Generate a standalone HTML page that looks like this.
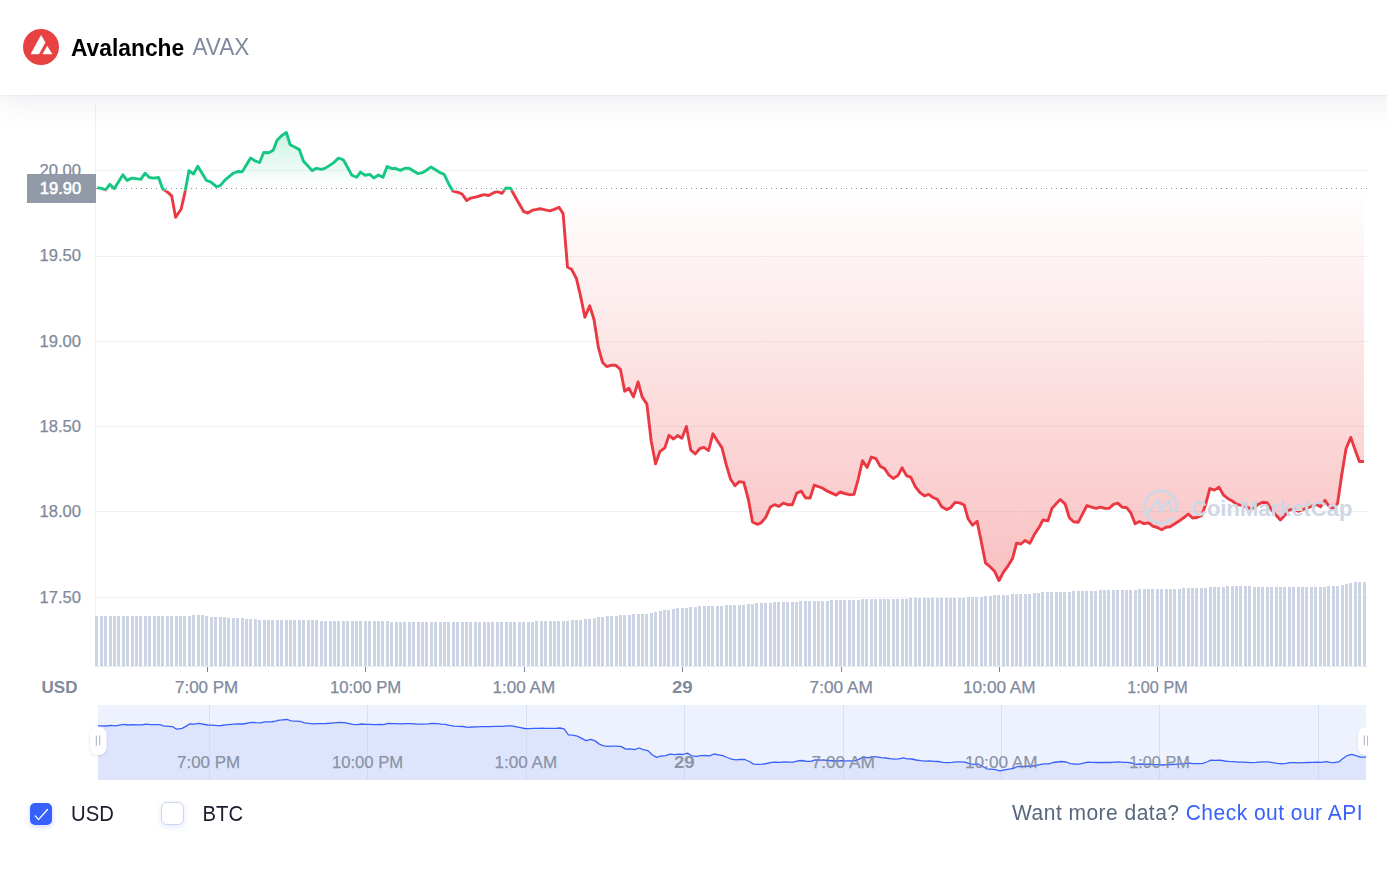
<!DOCTYPE html>
<html><head><meta charset="utf-8"><title>Avalanche AVAX</title>
<style>
html,body{margin:0;padding:0;background:#fff;}
body{width:1387px;height:873px;position:relative;overflow:hidden;font-family:"Liberation Sans",sans-serif;}
.hdr{position:absolute;left:0;top:0;width:1467px;height:95px;background:#fff;box-shadow:0 7px 28px rgba(128,138,157,0.14),0 1px 2px rgba(128,138,157,0.10);z-index:2;}
.logo{position:absolute;left:23px;top:29px;width:36px;height:36px;}
.name{position:absolute;left:71px;top:33.5px;font-size:22.8px;line-height:28px;font-weight:700;color:#000;white-space:nowrap;transform:scaleY(1.055);transform-origin:0 21.8px;}
.sym{position:absolute;left:192.4px;top:33.5px;font-size:22.6px;line-height:28px;font-weight:400;color:#808a9d;white-space:nowrap;transform:scaleY(1.045);transform-origin:0 21.8px;}
.chart{position:absolute;left:0;top:0;z-index:1;}
.chart text{font-family:"Liberation Sans",sans-serif;}
.ax{font-size:16.6px;fill:#808a9d;stroke:#808a9d;stroke-width:0.25px;}
.axb{font-size:16.6px;fill:#808a9d;font-weight:700;}
.usd{font-size:17px;fill:#808a9d;font-weight:700;}
.pl{font-size:16.5px;fill:#fff;font-weight:400;stroke:#fff;stroke-width:0.55px;}
.nv{font-size:16.6px;fill:#808a9d;fill-opacity:0.9;stroke:#808a9d;stroke-width:0.25px;stroke-opacity:0.9;}
.nvb{font-size:16.6px;fill:#808a9d;font-weight:700;fill-opacity:0.9;}
.wm{font-size:22px;font-weight:700;fill:#cfd6e4;}
.cb{position:absolute;top:803px;width:22px;height:22px;border-radius:5px;box-sizing:border-box;}
.cb.on{left:30px;background:#3861fb;box-shadow:0 2px 5px rgba(56,97,251,0.25);}
.cb.off{left:160.5px;top:802px;width:23px;height:23px;border-radius:6px;background:#fff;border:1px solid #ccd6f0;box-shadow:0 2px 6px rgba(56,97,251,0.14);}
.lbl{position:absolute;top:801px;font-size:20.3px;line-height:26px;color:#1a1d2e;white-space:nowrap;transform:scaleY(1.07);transform-origin:0 19.7px;}
.more{position:absolute;right:24px;top:799.5px;font-size:21px;line-height:26px;letter-spacing:0.47px;color:#58667e;white-space:nowrap;transform:scaleY(1.06);transform-origin:100% 20.1px;}
.more a{color:#3861fb;text-decoration:none;}
</style></head><body>
<div class="hdr">
<svg class="logo" viewBox="0 0 36 36"><circle cx="18" cy="18" r="18" fill="#e84142"/><path d="M18.1,6.5 L22.1,13.4 L15.9,24.9 L8,24.9 Z M24.2,17.3 L28.9,24.9 L19.9,24.9 Z" fill="#fff" stroke="#fff" stroke-width="0.6" stroke-linejoin="round"/></svg>
<div class="name">Avalanche</div><div class="sym">AVAX</div>
</div>
<svg class="chart" width="1387" height="873" viewBox="0 0 1387 873">
<defs>
<linearGradient id="gG" x1="0" y1="128" x2="0" y2="188.4" gradientUnits="userSpaceOnUse"><stop offset="0" stop-color="#16c784" stop-opacity="0.24"/><stop offset="1" stop-color="#16c784" stop-opacity="0.0"/></linearGradient>
<linearGradient id="gR" x1="0" y1="188.4" x2="0" y2="590" gradientUnits="userSpaceOnUse"><stop offset="0" stop-color="#ec3b3e" stop-opacity="0.0"/><stop offset="1" stop-color="#ec3b3e" stop-opacity="0.33"/></linearGradient>
<clipPath id="cUp"><rect x="0" y="0" width="1387" height="188.4"/></clipPath>
<clipPath id="cDn"><rect x="0" y="188.4" width="1387" height="500"/></clipPath>
<clipPath id="lUp"><rect x="0" y="0" width="1387" height="190.4"/></clipPath>
<clipPath id="lDn"><rect x="0" y="190.4" width="1387" height="500"/></clipPath>
</defs>
<rect x="95" y="105" width="1" height="561" fill="#eff2f5"/>
<rect x="95" y="170" width="1273" height="1" fill="#eff2f5"/>
<rect x="95" y="256" width="1273" height="1" fill="#eff2f5"/>
<rect x="95" y="341" width="1273" height="1" fill="#eff2f5"/>
<rect x="95" y="426" width="1273" height="1" fill="#eff2f5"/>
<rect x="95" y="511" width="1273" height="1" fill="#eff2f5"/>
<rect x="95" y="597" width="1273" height="1" fill="#eff2f5"/>
<rect x="95" y="666" width="1273" height="1" fill="#e9edf3"/>
<text x="81" y="175.9" text-anchor="end" class="ax">20.00</text>
<text x="81" y="261.4" text-anchor="end" class="ax">19.50</text>
<text x="81" y="346.9" text-anchor="end" class="ax">19.00</text>
<text x="81" y="431.9" text-anchor="end" class="ax">18.50</text>
<text x="81" y="516.9" text-anchor="end" class="ax">18.00</text>
<text x="81" y="602.9" text-anchor="end" class="ax">17.50</text>
<path d="M97.2,187.6 L101.5,188.4 L105.6,189.8 L109.8,184.4 L114.2,188.8 L122.9,174.8 L127.1,180.4 L131.8,178.1 L136.1,178.6 L140.8,179.4 L145.1,173.2 L149.4,177.5 L154.0,178.1 L158.6,177.5 L162.7,189.0 L167.3,191.9 L171.7,195.9 L175.6,217.3 L181.1,209.2 L184.8,193.1 L189.0,170.6 L193.5,174.0 L197.8,166.2 L206.5,180.4 L211.1,182.1 L216.3,186.7 L220.3,185.6 L224.9,180.1 L233.0,173.4 L237.6,171.5 L242.2,171.7 L250.6,157.9 L255.0,160.9 L259.6,162.5 L263.6,152.5 L268.8,152.8 L273.2,150.2 L276.9,140.6 L281.5,135.8 L286.4,132.5 L290.2,144.8 L295.1,147.3 L299.4,149.6 L303.4,161.1 L312.1,170.6 L316.4,168.3 L321.3,169.4 L325.4,168.1 L333.4,162.9 L338.6,158.0 L343.5,160.0 L351.9,175.2 L356.5,177.3 L360.5,172.1 L365.1,175.2 L369.8,174.4 L373.8,177.9 L378.4,175.0 L383.0,177.3 L387.1,166.6 L392.2,168.6 L395.2,168.3 L400.4,170.4 L405.0,168.3 L409.0,168.3 L417.7,173.6 L422.3,172.7 L426.9,170.0 L430.9,166.9 L435.6,169.8 L440.2,172.7 L444.2,174.4 L448.8,184.2 L452.9,191.1 L458.1,192.3 L462.1,194.0 L466.7,200.6 L470.7,198.1 L475.4,197.1 L479.4,196.0 L484.0,194.6 L488.6,195.5 L493.2,192.9 L497.3,191.7 L501.9,193.4 L505.9,188.0 L510.5,188.2 L514.6,195.7 L519.2,203.8 L523.8,211.7 L527.8,213.0 L532.5,210.2 L537.1,209.3 L541.1,208.8 L545.2,209.8 L549.8,210.8 L554.4,209.4 L559.0,207.3 L563.1,213.6 L567.5,267.1 L571.7,269.6 L576.3,278.2 L580.3,294.9 L584.9,317.2 L589.7,305.8 L594.0,319.5 L598.4,347.6 L602.6,362.5 L606.7,366.5 L611.2,365.3 L615.8,365.3 L620.4,369.4 L624.7,391.2 L628.9,388.3 L633.5,396.9 L638.1,382.0 L642.1,396.9 L646.9,404.1 L651.2,441.0 L655.6,463.9 L659.8,451.6 L664.8,447.9 L669.0,435.3 L673.6,439.0 L677.6,435.5 L681.9,438.2 L686.4,426.4 L690.8,450.2 L695.3,453.9 L699.9,448.5 L704.0,447.4 L708.6,450.5 L712.9,433.8 L717.3,440.7 L721.9,447.6 L726.3,464.9 L730.6,479.3 L735.0,485.7 L739.2,481.6 L743.8,482.4 L748.4,499.5 L752.5,522.0 L757.1,524.3 L761.1,522.8 L765.7,517.4 L770.4,507.0 L774.4,504.7 L779.0,506.4 L783.3,503.2 L787.7,504.7 L792.3,504.7 L796.7,493.2 L801.3,491.2 L805.5,497.8 L810.1,498.1 L814.2,485.1 L822.3,488.0 L826.9,490.9 L836.1,495.1 L840.1,492.0 L844.8,493.5 L849.4,494.7 L854.0,494.4 L858.1,479.6 L862.5,460.6 L867.1,467.5 L871.3,457.1 L876.0,458.6 L880.2,466.3 L884.6,468.6 L889.0,475.2 L893.2,478.4 L897.9,475.6 L902.1,467.8 L906.5,475.6 L910.9,477.3 L915.2,486.5 L919.8,492.3 L924.4,495.8 L928.7,494.4 L933.0,497.5 L937.4,499.4 L941.7,506.7 L946.7,509.6 L950.9,507.5 L955.0,502.4 L959.6,502.9 L964.2,505.0 L968.1,518.8 L972.5,525.2 L977.1,521.4 L981.3,541.9 L985.6,563.2 L990.0,566.7 L994.6,571.3 L999.0,580.5 L1003.6,571.9 L1007.9,566.1 L1012.5,558.6 L1016.5,543.3 L1020.9,544.0 L1025.2,540.4 L1029.8,543.3 L1034.4,534.4 L1039.0,527.5 L1043.0,520.0 L1047.9,520.9 L1052.0,508.4 L1056.3,503.6 L1060.3,499.5 L1065.2,504.1 L1069.3,517.7 L1073.6,521.7 L1078.2,522.3 L1086.9,505.6 L1091.5,507.1 L1096.1,508.4 L1100.1,507.1 L1104.8,508.4 L1109.4,508.2 L1113.4,504.4 L1117.8,503.1 L1122.1,507.1 L1126.7,507.7 L1130.8,512.9 L1135.1,523.8 L1139.4,521.5 L1144.0,523.6 L1148.6,522.9 L1152.7,526.1 L1157.3,527.5 L1161.7,529.8 L1165.9,527.3 L1170.0,526.7 L1179.2,520.9 L1183.8,517.8 L1188.2,514.0 L1192.5,518.0 L1197.1,517.5 L1201.7,515.5 L1205.7,504.2 L1209.8,488.6 L1214.4,490.1 L1219.0,487.1 L1223.6,495.2 L1227.7,498.4 L1232.3,501.0 L1236.9,504.4 L1241.5,505.4 L1246.1,506.8 L1250.7,508.8 L1254.8,507.4 L1258.0,504.5 L1262.6,502.2 L1267.2,502.7 L1271.8,510.2 L1276.1,515.3 L1280.4,519.9 L1284.9,515.3 L1289.0,510.2 L1293.5,508.8 L1298.1,511.3 L1302.7,509.6 L1307.3,507.9 L1311.9,506.2 L1316.4,504.5 L1320.5,506.8 L1325.0,500.4 L1329.0,506.2 L1333.0,509.0 L1337.6,503.3 L1341.6,475.8 L1346.0,448.9 L1350.8,437.4 L1354.8,448.9 L1359.4,461.5 L1364.0,461.5 L1364.0,188.4 L97.2,188.4 Z" fill="url(#gG)" clip-path="url(#cUp)"/>
<path d="M97.2,187.6 L101.5,188.4 L105.6,189.8 L109.8,184.4 L114.2,188.8 L122.9,174.8 L127.1,180.4 L131.8,178.1 L136.1,178.6 L140.8,179.4 L145.1,173.2 L149.4,177.5 L154.0,178.1 L158.6,177.5 L162.7,189.0 L167.3,191.9 L171.7,195.9 L175.6,217.3 L181.1,209.2 L184.8,193.1 L189.0,170.6 L193.5,174.0 L197.8,166.2 L206.5,180.4 L211.1,182.1 L216.3,186.7 L220.3,185.6 L224.9,180.1 L233.0,173.4 L237.6,171.5 L242.2,171.7 L250.6,157.9 L255.0,160.9 L259.6,162.5 L263.6,152.5 L268.8,152.8 L273.2,150.2 L276.9,140.6 L281.5,135.8 L286.4,132.5 L290.2,144.8 L295.1,147.3 L299.4,149.6 L303.4,161.1 L312.1,170.6 L316.4,168.3 L321.3,169.4 L325.4,168.1 L333.4,162.9 L338.6,158.0 L343.5,160.0 L351.9,175.2 L356.5,177.3 L360.5,172.1 L365.1,175.2 L369.8,174.4 L373.8,177.9 L378.4,175.0 L383.0,177.3 L387.1,166.6 L392.2,168.6 L395.2,168.3 L400.4,170.4 L405.0,168.3 L409.0,168.3 L417.7,173.6 L422.3,172.7 L426.9,170.0 L430.9,166.9 L435.6,169.8 L440.2,172.7 L444.2,174.4 L448.8,184.2 L452.9,191.1 L458.1,192.3 L462.1,194.0 L466.7,200.6 L470.7,198.1 L475.4,197.1 L479.4,196.0 L484.0,194.6 L488.6,195.5 L493.2,192.9 L497.3,191.7 L501.9,193.4 L505.9,188.0 L510.5,188.2 L514.6,195.7 L519.2,203.8 L523.8,211.7 L527.8,213.0 L532.5,210.2 L537.1,209.3 L541.1,208.8 L545.2,209.8 L549.8,210.8 L554.4,209.4 L559.0,207.3 L563.1,213.6 L567.5,267.1 L571.7,269.6 L576.3,278.2 L580.3,294.9 L584.9,317.2 L589.7,305.8 L594.0,319.5 L598.4,347.6 L602.6,362.5 L606.7,366.5 L611.2,365.3 L615.8,365.3 L620.4,369.4 L624.7,391.2 L628.9,388.3 L633.5,396.9 L638.1,382.0 L642.1,396.9 L646.9,404.1 L651.2,441.0 L655.6,463.9 L659.8,451.6 L664.8,447.9 L669.0,435.3 L673.6,439.0 L677.6,435.5 L681.9,438.2 L686.4,426.4 L690.8,450.2 L695.3,453.9 L699.9,448.5 L704.0,447.4 L708.6,450.5 L712.9,433.8 L717.3,440.7 L721.9,447.6 L726.3,464.9 L730.6,479.3 L735.0,485.7 L739.2,481.6 L743.8,482.4 L748.4,499.5 L752.5,522.0 L757.1,524.3 L761.1,522.8 L765.7,517.4 L770.4,507.0 L774.4,504.7 L779.0,506.4 L783.3,503.2 L787.7,504.7 L792.3,504.7 L796.7,493.2 L801.3,491.2 L805.5,497.8 L810.1,498.1 L814.2,485.1 L822.3,488.0 L826.9,490.9 L836.1,495.1 L840.1,492.0 L844.8,493.5 L849.4,494.7 L854.0,494.4 L858.1,479.6 L862.5,460.6 L867.1,467.5 L871.3,457.1 L876.0,458.6 L880.2,466.3 L884.6,468.6 L889.0,475.2 L893.2,478.4 L897.9,475.6 L902.1,467.8 L906.5,475.6 L910.9,477.3 L915.2,486.5 L919.8,492.3 L924.4,495.8 L928.7,494.4 L933.0,497.5 L937.4,499.4 L941.7,506.7 L946.7,509.6 L950.9,507.5 L955.0,502.4 L959.6,502.9 L964.2,505.0 L968.1,518.8 L972.5,525.2 L977.1,521.4 L981.3,541.9 L985.6,563.2 L990.0,566.7 L994.6,571.3 L999.0,580.5 L1003.6,571.9 L1007.9,566.1 L1012.5,558.6 L1016.5,543.3 L1020.9,544.0 L1025.2,540.4 L1029.8,543.3 L1034.4,534.4 L1039.0,527.5 L1043.0,520.0 L1047.9,520.9 L1052.0,508.4 L1056.3,503.6 L1060.3,499.5 L1065.2,504.1 L1069.3,517.7 L1073.6,521.7 L1078.2,522.3 L1086.9,505.6 L1091.5,507.1 L1096.1,508.4 L1100.1,507.1 L1104.8,508.4 L1109.4,508.2 L1113.4,504.4 L1117.8,503.1 L1122.1,507.1 L1126.7,507.7 L1130.8,512.9 L1135.1,523.8 L1139.4,521.5 L1144.0,523.6 L1148.6,522.9 L1152.7,526.1 L1157.3,527.5 L1161.7,529.8 L1165.9,527.3 L1170.0,526.7 L1179.2,520.9 L1183.8,517.8 L1188.2,514.0 L1192.5,518.0 L1197.1,517.5 L1201.7,515.5 L1205.7,504.2 L1209.8,488.6 L1214.4,490.1 L1219.0,487.1 L1223.6,495.2 L1227.7,498.4 L1232.3,501.0 L1236.9,504.4 L1241.5,505.4 L1246.1,506.8 L1250.7,508.8 L1254.8,507.4 L1258.0,504.5 L1262.6,502.2 L1267.2,502.7 L1271.8,510.2 L1276.1,515.3 L1280.4,519.9 L1284.9,515.3 L1289.0,510.2 L1293.5,508.8 L1298.1,511.3 L1302.7,509.6 L1307.3,507.9 L1311.9,506.2 L1316.4,504.5 L1320.5,506.8 L1325.0,500.4 L1329.0,506.2 L1333.0,509.0 L1337.6,503.3 L1341.6,475.8 L1346.0,448.9 L1350.8,437.4 L1354.8,448.9 L1359.4,461.5 L1364.0,461.5 L1364.0,188.4 L97.2,188.4 Z" fill="url(#gR)" clip-path="url(#cDn)"/>
<g fill="#ccd4e5"><rect x="95" y="616" width="3" height="50"/><rect x="100" y="616" width="3" height="50"/><rect x="104" y="616" width="3" height="50"/><rect x="109" y="616" width="3" height="50"/><rect x="113" y="616" width="3" height="50"/><rect x="117" y="616" width="3" height="50"/><rect x="122" y="616" width="3" height="50"/><rect x="126" y="616" width="3" height="50"/><rect x="131" y="616" width="3" height="50"/><rect x="135" y="616" width="3" height="50"/><rect x="139" y="616" width="3" height="50"/><rect x="144" y="616" width="3" height="50"/><rect x="148" y="616" width="3" height="50"/><rect x="153" y="616" width="3" height="50"/><rect x="157" y="616" width="3" height="50"/><rect x="161" y="616" width="3" height="50"/><rect x="166" y="616" width="3" height="50"/><rect x="170" y="616" width="3" height="50"/><rect x="175" y="616" width="3" height="50"/><rect x="179" y="616" width="3" height="50"/><rect x="183" y="616" width="3" height="50"/><rect x="188" y="616" width="3" height="50"/><rect x="192" y="615" width="3" height="51"/><rect x="197" y="615" width="3" height="51"/><rect x="201" y="615" width="3" height="51"/><rect x="205" y="616" width="3" height="50"/><rect x="210" y="617" width="3" height="49"/><rect x="214" y="617" width="3" height="49"/><rect x="219" y="617" width="3" height="49"/><rect x="223" y="617" width="3" height="49"/><rect x="227" y="618" width="3" height="48"/><rect x="232" y="618" width="3" height="48"/><rect x="236" y="618" width="3" height="48"/><rect x="241" y="618" width="3" height="48"/><rect x="245" y="619" width="3" height="47"/><rect x="249" y="619" width="3" height="47"/><rect x="254" y="619" width="3" height="47"/><rect x="258" y="620" width="3" height="46"/><rect x="263" y="620" width="3" height="46"/><rect x="267" y="620" width="3" height="46"/><rect x="271" y="620" width="3" height="46"/><rect x="276" y="620" width="3" height="46"/><rect x="280" y="620" width="3" height="46"/><rect x="285" y="620" width="3" height="46"/><rect x="289" y="620" width="3" height="46"/><rect x="293" y="620" width="3" height="46"/><rect x="298" y="620" width="3" height="46"/><rect x="302" y="620" width="3" height="46"/><rect x="307" y="620" width="3" height="46"/><rect x="311" y="620" width="3" height="46"/><rect x="315" y="620" width="3" height="46"/><rect x="320" y="621" width="3" height="45"/><rect x="324" y="621" width="3" height="45"/><rect x="329" y="621" width="3" height="45"/><rect x="333" y="621" width="3" height="45"/><rect x="337" y="621" width="3" height="45"/><rect x="342" y="621" width="3" height="45"/><rect x="346" y="621" width="3" height="45"/><rect x="351" y="621" width="3" height="45"/><rect x="355" y="621" width="3" height="45"/><rect x="359" y="621" width="3" height="45"/><rect x="364" y="621" width="3" height="45"/><rect x="368" y="621" width="3" height="45"/><rect x="373" y="621" width="3" height="45"/><rect x="377" y="621" width="3" height="45"/><rect x="381" y="621" width="3" height="45"/><rect x="386" y="621" width="3" height="45"/><rect x="390" y="622" width="3" height="44"/><rect x="395" y="622" width="3" height="44"/><rect x="399" y="622" width="3" height="44"/><rect x="403" y="622" width="3" height="44"/><rect x="408" y="622" width="3" height="44"/><rect x="412" y="622" width="3" height="44"/><rect x="417" y="622" width="3" height="44"/><rect x="421" y="622" width="3" height="44"/><rect x="425" y="622" width="3" height="44"/><rect x="430" y="622" width="3" height="44"/><rect x="434" y="622" width="3" height="44"/><rect x="439" y="622" width="3" height="44"/><rect x="443" y="622" width="3" height="44"/><rect x="447" y="622" width="3" height="44"/><rect x="452" y="622" width="3" height="44"/><rect x="456" y="622" width="3" height="44"/><rect x="461" y="622" width="3" height="44"/><rect x="465" y="622" width="3" height="44"/><rect x="469" y="622" width="3" height="44"/><rect x="474" y="622" width="3" height="44"/><rect x="478" y="622" width="3" height="44"/><rect x="483" y="622" width="3" height="44"/><rect x="487" y="622" width="3" height="44"/><rect x="491" y="622" width="3" height="44"/><rect x="496" y="622" width="3" height="44"/><rect x="500" y="622" width="3" height="44"/><rect x="505" y="622" width="3" height="44"/><rect x="509" y="622" width="3" height="44"/><rect x="513" y="622" width="3" height="44"/><rect x="518" y="622" width="3" height="44"/><rect x="522" y="622" width="3" height="44"/><rect x="527" y="622" width="3" height="44"/><rect x="531" y="622" width="3" height="44"/><rect x="535" y="621" width="3" height="45"/><rect x="540" y="621" width="3" height="45"/><rect x="544" y="621" width="3" height="45"/><rect x="549" y="621" width="3" height="45"/><rect x="553" y="621" width="3" height="45"/><rect x="557" y="621" width="3" height="45"/><rect x="562" y="621" width="3" height="45"/><rect x="566" y="621" width="3" height="45"/><rect x="571" y="620" width="3" height="46"/><rect x="575" y="620" width="3" height="46"/><rect x="579" y="620" width="3" height="46"/><rect x="584" y="619" width="3" height="47"/><rect x="588" y="619" width="3" height="47"/><rect x="593" y="618.5" width="3" height="47.5"/><rect x="597" y="617" width="3" height="49"/><rect x="601" y="617" width="3" height="49"/><rect x="606" y="616" width="3" height="50"/><rect x="610" y="616" width="3" height="50"/><rect x="615" y="616" width="3" height="50"/><rect x="619" y="615" width="3" height="51"/><rect x="623" y="615" width="3" height="51"/><rect x="628" y="615" width="3" height="51"/><rect x="632" y="614" width="3" height="52"/><rect x="637" y="614" width="3" height="52"/><rect x="641" y="614" width="3" height="52"/><rect x="645" y="614" width="3" height="52"/><rect x="650" y="613" width="3" height="53"/><rect x="654" y="612" width="3" height="54"/><rect x="659" y="611" width="3" height="55"/><rect x="663" y="610" width="3" height="56"/><rect x="667" y="610" width="3" height="56"/><rect x="672" y="609" width="3" height="57"/><rect x="676" y="608" width="3" height="58"/><rect x="681" y="608" width="3" height="58"/><rect x="685" y="608" width="3" height="58"/><rect x="689" y="607" width="3" height="59"/><rect x="694" y="607" width="3" height="59"/><rect x="698" y="606" width="3" height="60"/><rect x="703" y="606" width="3" height="60"/><rect x="707" y="606" width="3" height="60"/><rect x="711" y="606" width="3" height="60"/><rect x="716" y="606" width="3" height="60"/><rect x="720" y="606" width="3" height="60"/><rect x="725" y="605" width="3" height="61"/><rect x="729" y="605" width="3" height="61"/><rect x="733" y="605" width="3" height="61"/><rect x="738" y="605" width="3" height="61"/><rect x="742" y="605" width="3" height="61"/><rect x="747" y="604" width="3" height="62"/><rect x="751" y="604" width="3" height="62"/><rect x="755" y="603" width="3" height="63"/><rect x="760" y="603" width="3" height="63"/><rect x="764" y="603" width="3" height="63"/><rect x="769" y="603" width="3" height="63"/><rect x="773" y="602" width="3" height="64"/><rect x="777" y="602" width="3" height="64"/><rect x="782" y="602" width="3" height="64"/><rect x="786" y="602" width="3" height="64"/><rect x="791" y="602" width="3" height="64"/><rect x="795" y="602" width="3" height="64"/><rect x="799" y="601" width="3" height="65"/><rect x="804" y="601" width="3" height="65"/><rect x="808" y="601" width="3" height="65"/><rect x="813" y="601" width="3" height="65"/><rect x="817" y="601" width="3" height="65"/><rect x="821" y="601" width="3" height="65"/><rect x="826" y="601" width="3" height="65"/><rect x="830" y="600" width="3" height="66"/><rect x="835" y="600" width="3" height="66"/><rect x="839" y="600" width="3" height="66"/><rect x="843" y="600" width="3" height="66"/><rect x="848" y="600" width="3" height="66"/><rect x="852" y="600" width="3" height="66"/><rect x="857" y="600" width="3" height="66"/><rect x="861" y="599" width="3" height="67"/><rect x="865" y="599" width="3" height="67"/><rect x="870" y="599" width="3" height="67"/><rect x="874" y="599" width="3" height="67"/><rect x="879" y="599" width="3" height="67"/><rect x="883" y="599" width="3" height="67"/><rect x="887" y="599" width="3" height="67"/><rect x="892" y="599" width="3" height="67"/><rect x="896" y="599" width="3" height="67"/><rect x="901" y="599" width="3" height="67"/><rect x="905" y="599" width="3" height="67"/><rect x="909" y="598" width="3" height="68"/><rect x="914" y="598" width="3" height="68"/><rect x="918" y="598" width="3" height="68"/><rect x="923" y="598" width="3" height="68"/><rect x="927" y="598" width="3" height="68"/><rect x="931" y="598" width="3" height="68"/><rect x="936" y="598" width="3" height="68"/><rect x="940" y="598" width="3" height="68"/><rect x="945" y="598" width="3" height="68"/><rect x="949" y="598" width="3" height="68"/><rect x="953" y="598" width="3" height="68"/><rect x="958" y="598" width="3" height="68"/><rect x="962" y="598" width="3" height="68"/><rect x="967" y="597" width="3" height="69"/><rect x="971" y="597" width="3" height="69"/><rect x="975" y="597" width="3" height="69"/><rect x="980" y="597" width="3" height="69"/><rect x="984" y="596" width="3" height="70"/><rect x="989" y="596" width="3" height="70"/><rect x="993" y="595" width="3" height="71"/><rect x="997" y="595" width="3" height="71"/><rect x="1002" y="595" width="3" height="71"/><rect x="1006" y="595" width="3" height="71"/><rect x="1011" y="594" width="3" height="72"/><rect x="1015" y="594" width="3" height="72"/><rect x="1019" y="594" width="3" height="72"/><rect x="1024" y="594" width="3" height="72"/><rect x="1028" y="594" width="3" height="72"/><rect x="1033" y="593" width="3" height="73"/><rect x="1037" y="593" width="3" height="73"/><rect x="1041" y="592" width="3" height="74"/><rect x="1046" y="592" width="3" height="74"/><rect x="1050" y="592" width="3" height="74"/><rect x="1055" y="592" width="3" height="74"/><rect x="1059" y="592" width="3" height="74"/><rect x="1063" y="592" width="3" height="74"/><rect x="1068" y="592" width="3" height="74"/><rect x="1072" y="591" width="3" height="75"/><rect x="1077" y="591" width="3" height="75"/><rect x="1081" y="591" width="3" height="75"/><rect x="1085" y="591" width="3" height="75"/><rect x="1090" y="591" width="3" height="75"/><rect x="1094" y="591" width="3" height="75"/><rect x="1099" y="590" width="3" height="76"/><rect x="1103" y="590" width="3" height="76"/><rect x="1107" y="590" width="3" height="76"/><rect x="1112" y="590" width="3" height="76"/><rect x="1116" y="590" width="3" height="76"/><rect x="1121" y="590" width="3" height="76"/><rect x="1125" y="590" width="3" height="76"/><rect x="1129" y="590" width="3" height="76"/><rect x="1134" y="590" width="3" height="76"/><rect x="1138" y="589" width="3" height="77"/><rect x="1143" y="589" width="3" height="77"/><rect x="1147" y="589" width="3" height="77"/><rect x="1151" y="589" width="3" height="77"/><rect x="1156" y="589" width="3" height="77"/><rect x="1160" y="589" width="3" height="77"/><rect x="1165" y="589" width="3" height="77"/><rect x="1169" y="589" width="3" height="77"/><rect x="1173" y="589" width="3" height="77"/><rect x="1178" y="589" width="3" height="77"/><rect x="1182" y="588" width="3" height="78"/><rect x="1187" y="588" width="3" height="78"/><rect x="1191" y="588" width="3" height="78"/><rect x="1195" y="588" width="3" height="78"/><rect x="1200" y="588" width="3" height="78"/><rect x="1204" y="588" width="3" height="78"/><rect x="1209" y="587" width="3" height="79"/><rect x="1213" y="587" width="3" height="79"/><rect x="1217" y="587" width="3" height="79"/><rect x="1222" y="587" width="3" height="79"/><rect x="1226" y="586" width="3" height="80"/><rect x="1231" y="586" width="3" height="80"/><rect x="1235" y="586" width="3" height="80"/><rect x="1239" y="586" width="3" height="80"/><rect x="1244" y="586" width="3" height="80"/><rect x="1248" y="586" width="3" height="80"/><rect x="1253" y="587" width="3" height="79"/><rect x="1257" y="587" width="3" height="79"/><rect x="1261" y="587" width="3" height="79"/><rect x="1266" y="587" width="3" height="79"/><rect x="1270" y="587" width="3" height="79"/><rect x="1275" y="587" width="3" height="79"/><rect x="1279" y="587" width="3" height="79"/><rect x="1283" y="587" width="3" height="79"/><rect x="1288" y="587" width="3" height="79"/><rect x="1292" y="587" width="3" height="79"/><rect x="1297" y="587" width="3" height="79"/><rect x="1301" y="587" width="3" height="79"/><rect x="1305" y="587" width="3" height="79"/><rect x="1310" y="587" width="3" height="79"/><rect x="1314" y="587" width="3" height="79"/><rect x="1319" y="587" width="3" height="79"/><rect x="1323" y="587" width="3" height="79"/><rect x="1327" y="586" width="3" height="80"/><rect x="1332" y="586" width="3" height="80"/><rect x="1336" y="586" width="3" height="80"/><rect x="1341" y="585" width="3" height="81"/><rect x="1345" y="584" width="3" height="82"/><rect x="1349" y="583" width="3" height="83"/><rect x="1354" y="582" width="3" height="84"/><rect x="1358" y="582" width="3" height="84"/><rect x="1363" y="582" width="3" height="84"/></g>
<line x1="96" y1="188.5" x2="1368" y2="188.5" stroke="#868fa0" stroke-width="1" stroke-dasharray="1 4"/>
<path d="M97.2,187.6 L101.5,188.4 L105.6,189.8 L109.8,184.4 L114.2,188.8 L122.9,174.8 L127.1,180.4 L131.8,178.1 L136.1,178.6 L140.8,179.4 L145.1,173.2 L149.4,177.5 L154.0,178.1 L158.6,177.5 L162.7,189.0 L167.3,191.9 L171.7,195.9 L175.6,217.3 L181.1,209.2 L184.8,193.1 L189.0,170.6 L193.5,174.0 L197.8,166.2 L206.5,180.4 L211.1,182.1 L216.3,186.7 L220.3,185.6 L224.9,180.1 L233.0,173.4 L237.6,171.5 L242.2,171.7 L250.6,157.9 L255.0,160.9 L259.6,162.5 L263.6,152.5 L268.8,152.8 L273.2,150.2 L276.9,140.6 L281.5,135.8 L286.4,132.5 L290.2,144.8 L295.1,147.3 L299.4,149.6 L303.4,161.1 L312.1,170.6 L316.4,168.3 L321.3,169.4 L325.4,168.1 L333.4,162.9 L338.6,158.0 L343.5,160.0 L351.9,175.2 L356.5,177.3 L360.5,172.1 L365.1,175.2 L369.8,174.4 L373.8,177.9 L378.4,175.0 L383.0,177.3 L387.1,166.6 L392.2,168.6 L395.2,168.3 L400.4,170.4 L405.0,168.3 L409.0,168.3 L417.7,173.6 L422.3,172.7 L426.9,170.0 L430.9,166.9 L435.6,169.8 L440.2,172.7 L444.2,174.4 L448.8,184.2 L452.9,191.1 L458.1,192.3 L462.1,194.0 L466.7,200.6 L470.7,198.1 L475.4,197.1 L479.4,196.0 L484.0,194.6 L488.6,195.5 L493.2,192.9 L497.3,191.7 L501.9,193.4 L505.9,188.0 L510.5,188.2 L514.6,195.7 L519.2,203.8 L523.8,211.7 L527.8,213.0 L532.5,210.2 L537.1,209.3 L541.1,208.8 L545.2,209.8 L549.8,210.8 L554.4,209.4 L559.0,207.3 L563.1,213.6 L567.5,267.1 L571.7,269.6 L576.3,278.2 L580.3,294.9 L584.9,317.2 L589.7,305.8 L594.0,319.5 L598.4,347.6 L602.6,362.5 L606.7,366.5 L611.2,365.3 L615.8,365.3 L620.4,369.4 L624.7,391.2 L628.9,388.3 L633.5,396.9 L638.1,382.0 L642.1,396.9 L646.9,404.1 L651.2,441.0 L655.6,463.9 L659.8,451.6 L664.8,447.9 L669.0,435.3 L673.6,439.0 L677.6,435.5 L681.9,438.2 L686.4,426.4 L690.8,450.2 L695.3,453.9 L699.9,448.5 L704.0,447.4 L708.6,450.5 L712.9,433.8 L717.3,440.7 L721.9,447.6 L726.3,464.9 L730.6,479.3 L735.0,485.7 L739.2,481.6 L743.8,482.4 L748.4,499.5 L752.5,522.0 L757.1,524.3 L761.1,522.8 L765.7,517.4 L770.4,507.0 L774.4,504.7 L779.0,506.4 L783.3,503.2 L787.7,504.7 L792.3,504.7 L796.7,493.2 L801.3,491.2 L805.5,497.8 L810.1,498.1 L814.2,485.1 L822.3,488.0 L826.9,490.9 L836.1,495.1 L840.1,492.0 L844.8,493.5 L849.4,494.7 L854.0,494.4 L858.1,479.6 L862.5,460.6 L867.1,467.5 L871.3,457.1 L876.0,458.6 L880.2,466.3 L884.6,468.6 L889.0,475.2 L893.2,478.4 L897.9,475.6 L902.1,467.8 L906.5,475.6 L910.9,477.3 L915.2,486.5 L919.8,492.3 L924.4,495.8 L928.7,494.4 L933.0,497.5 L937.4,499.4 L941.7,506.7 L946.7,509.6 L950.9,507.5 L955.0,502.4 L959.6,502.9 L964.2,505.0 L968.1,518.8 L972.5,525.2 L977.1,521.4 L981.3,541.9 L985.6,563.2 L990.0,566.7 L994.6,571.3 L999.0,580.5 L1003.6,571.9 L1007.9,566.1 L1012.5,558.6 L1016.5,543.3 L1020.9,544.0 L1025.2,540.4 L1029.8,543.3 L1034.4,534.4 L1039.0,527.5 L1043.0,520.0 L1047.9,520.9 L1052.0,508.4 L1056.3,503.6 L1060.3,499.5 L1065.2,504.1 L1069.3,517.7 L1073.6,521.7 L1078.2,522.3 L1086.9,505.6 L1091.5,507.1 L1096.1,508.4 L1100.1,507.1 L1104.8,508.4 L1109.4,508.2 L1113.4,504.4 L1117.8,503.1 L1122.1,507.1 L1126.7,507.7 L1130.8,512.9 L1135.1,523.8 L1139.4,521.5 L1144.0,523.6 L1148.6,522.9 L1152.7,526.1 L1157.3,527.5 L1161.7,529.8 L1165.9,527.3 L1170.0,526.7 L1179.2,520.9 L1183.8,517.8 L1188.2,514.0 L1192.5,518.0 L1197.1,517.5 L1201.7,515.5 L1205.7,504.2 L1209.8,488.6 L1214.4,490.1 L1219.0,487.1 L1223.6,495.2 L1227.7,498.4 L1232.3,501.0 L1236.9,504.4 L1241.5,505.4 L1246.1,506.8 L1250.7,508.8 L1254.8,507.4 L1258.0,504.5 L1262.6,502.2 L1267.2,502.7 L1271.8,510.2 L1276.1,515.3 L1280.4,519.9 L1284.9,515.3 L1289.0,510.2 L1293.5,508.8 L1298.1,511.3 L1302.7,509.6 L1307.3,507.9 L1311.9,506.2 L1316.4,504.5 L1320.5,506.8 L1325.0,500.4 L1329.0,506.2 L1333.0,509.0 L1337.6,503.3 L1341.6,475.8 L1346.0,448.9 L1350.8,437.4 L1354.8,448.9 L1359.4,461.5 L1364.0,461.5" fill="none" stroke="#16c784" stroke-width="2.9" stroke-linejoin="round" stroke-linecap="butt" clip-path="url(#lUp)"/>
<path d="M97.2,187.6 L101.5,188.4 L105.6,189.8 L109.8,184.4 L114.2,188.8 L122.9,174.8 L127.1,180.4 L131.8,178.1 L136.1,178.6 L140.8,179.4 L145.1,173.2 L149.4,177.5 L154.0,178.1 L158.6,177.5 L162.7,189.0 L167.3,191.9 L171.7,195.9 L175.6,217.3 L181.1,209.2 L184.8,193.1 L189.0,170.6 L193.5,174.0 L197.8,166.2 L206.5,180.4 L211.1,182.1 L216.3,186.7 L220.3,185.6 L224.9,180.1 L233.0,173.4 L237.6,171.5 L242.2,171.7 L250.6,157.9 L255.0,160.9 L259.6,162.5 L263.6,152.5 L268.8,152.8 L273.2,150.2 L276.9,140.6 L281.5,135.8 L286.4,132.5 L290.2,144.8 L295.1,147.3 L299.4,149.6 L303.4,161.1 L312.1,170.6 L316.4,168.3 L321.3,169.4 L325.4,168.1 L333.4,162.9 L338.6,158.0 L343.5,160.0 L351.9,175.2 L356.5,177.3 L360.5,172.1 L365.1,175.2 L369.8,174.4 L373.8,177.9 L378.4,175.0 L383.0,177.3 L387.1,166.6 L392.2,168.6 L395.2,168.3 L400.4,170.4 L405.0,168.3 L409.0,168.3 L417.7,173.6 L422.3,172.7 L426.9,170.0 L430.9,166.9 L435.6,169.8 L440.2,172.7 L444.2,174.4 L448.8,184.2 L452.9,191.1 L458.1,192.3 L462.1,194.0 L466.7,200.6 L470.7,198.1 L475.4,197.1 L479.4,196.0 L484.0,194.6 L488.6,195.5 L493.2,192.9 L497.3,191.7 L501.9,193.4 L505.9,188.0 L510.5,188.2 L514.6,195.7 L519.2,203.8 L523.8,211.7 L527.8,213.0 L532.5,210.2 L537.1,209.3 L541.1,208.8 L545.2,209.8 L549.8,210.8 L554.4,209.4 L559.0,207.3 L563.1,213.6 L567.5,267.1 L571.7,269.6 L576.3,278.2 L580.3,294.9 L584.9,317.2 L589.7,305.8 L594.0,319.5 L598.4,347.6 L602.6,362.5 L606.7,366.5 L611.2,365.3 L615.8,365.3 L620.4,369.4 L624.7,391.2 L628.9,388.3 L633.5,396.9 L638.1,382.0 L642.1,396.9 L646.9,404.1 L651.2,441.0 L655.6,463.9 L659.8,451.6 L664.8,447.9 L669.0,435.3 L673.6,439.0 L677.6,435.5 L681.9,438.2 L686.4,426.4 L690.8,450.2 L695.3,453.9 L699.9,448.5 L704.0,447.4 L708.6,450.5 L712.9,433.8 L717.3,440.7 L721.9,447.6 L726.3,464.9 L730.6,479.3 L735.0,485.7 L739.2,481.6 L743.8,482.4 L748.4,499.5 L752.5,522.0 L757.1,524.3 L761.1,522.8 L765.7,517.4 L770.4,507.0 L774.4,504.7 L779.0,506.4 L783.3,503.2 L787.7,504.7 L792.3,504.7 L796.7,493.2 L801.3,491.2 L805.5,497.8 L810.1,498.1 L814.2,485.1 L822.3,488.0 L826.9,490.9 L836.1,495.1 L840.1,492.0 L844.8,493.5 L849.4,494.7 L854.0,494.4 L858.1,479.6 L862.5,460.6 L867.1,467.5 L871.3,457.1 L876.0,458.6 L880.2,466.3 L884.6,468.6 L889.0,475.2 L893.2,478.4 L897.9,475.6 L902.1,467.8 L906.5,475.6 L910.9,477.3 L915.2,486.5 L919.8,492.3 L924.4,495.8 L928.7,494.4 L933.0,497.5 L937.4,499.4 L941.7,506.7 L946.7,509.6 L950.9,507.5 L955.0,502.4 L959.6,502.9 L964.2,505.0 L968.1,518.8 L972.5,525.2 L977.1,521.4 L981.3,541.9 L985.6,563.2 L990.0,566.7 L994.6,571.3 L999.0,580.5 L1003.6,571.9 L1007.9,566.1 L1012.5,558.6 L1016.5,543.3 L1020.9,544.0 L1025.2,540.4 L1029.8,543.3 L1034.4,534.4 L1039.0,527.5 L1043.0,520.0 L1047.9,520.9 L1052.0,508.4 L1056.3,503.6 L1060.3,499.5 L1065.2,504.1 L1069.3,517.7 L1073.6,521.7 L1078.2,522.3 L1086.9,505.6 L1091.5,507.1 L1096.1,508.4 L1100.1,507.1 L1104.8,508.4 L1109.4,508.2 L1113.4,504.4 L1117.8,503.1 L1122.1,507.1 L1126.7,507.7 L1130.8,512.9 L1135.1,523.8 L1139.4,521.5 L1144.0,523.6 L1148.6,522.9 L1152.7,526.1 L1157.3,527.5 L1161.7,529.8 L1165.9,527.3 L1170.0,526.7 L1179.2,520.9 L1183.8,517.8 L1188.2,514.0 L1192.5,518.0 L1197.1,517.5 L1201.7,515.5 L1205.7,504.2 L1209.8,488.6 L1214.4,490.1 L1219.0,487.1 L1223.6,495.2 L1227.7,498.4 L1232.3,501.0 L1236.9,504.4 L1241.5,505.4 L1246.1,506.8 L1250.7,508.8 L1254.8,507.4 L1258.0,504.5 L1262.6,502.2 L1267.2,502.7 L1271.8,510.2 L1276.1,515.3 L1280.4,519.9 L1284.9,515.3 L1289.0,510.2 L1293.5,508.8 L1298.1,511.3 L1302.7,509.6 L1307.3,507.9 L1311.9,506.2 L1316.4,504.5 L1320.5,506.8 L1325.0,500.4 L1329.0,506.2 L1333.0,509.0 L1337.6,503.3 L1341.6,475.8 L1346.0,448.9 L1350.8,437.4 L1354.8,448.9 L1359.4,461.5 L1364.0,461.5" fill="none" stroke="#ea3943" stroke-width="2.9" stroke-linejoin="round" stroke-linecap="butt" clip-path="url(#lDn)"/>
<rect x="27" y="174" width="69" height="29" fill="#929aa8"/>
<text x="60.5" y="194.2" text-anchor="middle" class="pl">19.90</text>
<path d="M1147.6,513.4 L1157.3,500.6 Q1158.7,499.0 1159.0,501.2 L1160.2,511.2 Q1160.5,512.9 1161.5,511.4 L1168.0,501.6 Q1169.4,499.9 1169.7,502.2 L1170.6,508.4 Q1171.3,511.9 1174.0,511.1 Q1176.7,510.0 1177.0,507.0 A16.2,16.2 0 1 0 1172.7,518.0" fill="none" stroke="#cfd6e4" stroke-width="2.8" stroke-linejoin="round" stroke-linecap="round"/>
<text x="1191" y="515.6" class="wm">CoinMarketCap</text>
<rect x="207" y="667" width="1" height="5" fill="#7d859c"/>
<rect x="365" y="667" width="1" height="5" fill="#7d859c"/>
<rect x="524" y="667" width="1" height="5" fill="#7d859c"/>
<rect x="682" y="667" width="1" height="5" fill="#7d859c"/>
<rect x="841" y="667" width="1" height="5" fill="#7d859c"/>
<rect x="999" y="667" width="1" height="5" fill="#7d859c"/>
<rect x="1157" y="667" width="1" height="5" fill="#7d859c"/>
<text x="175.0" y="692.7" textLength="63.2" lengthAdjust="spacingAndGlyphs" class="ax">7:00 PM</text>
<text x="329.9" y="692.7" textLength="71.3" lengthAdjust="spacingAndGlyphs" class="ax">10:00 PM</text>
<text x="492.5" y="692.7" textLength="62.6" lengthAdjust="spacingAndGlyphs" class="ax">1:00 AM</text>
<text x="671.9" y="692.7" textLength="20.7" lengthAdjust="spacingAndGlyphs" class="axb">29</text>
<text x="809.6" y="692.7" textLength="63.3" lengthAdjust="spacingAndGlyphs" class="ax">7:00 AM</text>
<text x="963.0" y="692.7" textLength="72.6" lengthAdjust="spacingAndGlyphs" class="ax">10:00 AM</text>
<text x="1127.3" y="692.7" textLength="60.5" lengthAdjust="spacingAndGlyphs" class="ax">1:00 PM</text>
<text x="41.6" y="692.6" class="usd">USD</text>
<rect x="98" y="705" width="1268" height="75" fill="#eef2fe"/>
<path d="M98.0,725.8 L102.5,725.9 L106.6,726.0 L110.8,725.4 L115.2,725.9 L123.9,724.3 L128.1,725.0 L132.8,724.7 L137.1,724.8 L141.8,724.8 L146.1,724.1 L150.4,724.6 L155.0,724.7 L159.6,724.6 L163.7,725.9 L168.3,726.3 L172.7,726.7 L176.6,729.2 L182.1,728.3 L185.8,726.4 L190.0,723.8 L194.5,724.2 L198.8,723.3 L207.5,725.0 L212.1,725.1 L217.3,725.7 L221.3,725.5 L225.9,724.9 L234.0,724.2 L238.6,723.9 L243.2,724.0 L251.6,722.4 L256.0,722.7 L260.6,722.9 L264.6,721.8 L269.8,721.8 L274.2,721.5 L277.9,720.4 L282.5,719.8 L287.4,719.5 L291.2,720.9 L296.1,721.2 L300.4,721.4 L304.4,722.8 L313.1,723.8 L317.4,723.6 L322.3,723.7 L326.4,723.5 L334.4,722.9 L339.6,722.4 L344.5,722.6 L352.9,724.4 L357.5,724.6 L361.5,724.0 L366.1,724.4 L370.8,724.3 L374.8,724.7 L379.4,724.3 L384.0,724.6 L388.1,723.4 L393.2,723.6 L396.2,723.6 L401.4,723.8 L406.0,723.6 L410.0,723.6 L418.7,724.2 L423.3,724.1 L427.9,723.8 L431.9,723.4 L436.6,723.7 L441.2,724.1 L445.2,724.3 L449.8,725.4 L453.9,726.2 L459.1,726.3 L463.1,726.5 L467.7,727.3 L471.7,727.0 L476.4,726.9 L480.4,726.7 L485.0,726.6 L489.6,726.7 L494.2,726.4 L498.3,726.3 L502.9,726.4 L506.9,725.8 L511.5,725.9 L515.6,726.7 L520.2,727.6 L524.8,728.5 L528.8,728.7 L533.5,728.4 L538.1,728.3 L542.1,728.2 L546.2,728.3 L550.8,728.4 L555.4,728.3 L560.0,728.0 L564.1,728.8 L568.5,734.9 L572.7,735.2 L577.3,736.2 L581.3,738.1 L585.9,740.6 L590.7,739.3 L595.0,740.9 L599.4,744.1 L603.6,745.8 L607.7,746.3 L612.2,746.1 L616.8,746.1 L621.4,746.6 L625.7,749.1 L629.9,748.8 L634.5,749.7 L639.1,748.0 L643.1,749.7 L647.9,750.6 L652.2,754.8 L656.6,757.4 L660.8,756.0 L665.8,755.6 L670.0,754.1 L674.6,754.6 L678.6,754.2 L682.9,754.5 L687.4,753.1 L691.8,755.8 L696.3,756.3 L700.9,755.6 L705.0,755.5 L709.6,755.9 L713.9,754.0 L718.3,754.8 L722.9,755.6 L727.3,757.5 L731.6,759.2 L736.0,759.9 L740.2,759.4 L744.8,759.5 L749.4,761.5 L753.5,764.1 L758.1,764.3 L762.1,764.2 L766.7,763.5 L771.4,762.4 L775.4,762.1 L780.0,762.3 L784.3,761.9 L788.7,762.1 L793.3,762.1 L797.7,760.8 L802.3,760.5 L806.5,761.3 L811.1,761.3 L815.2,759.8 L823.3,760.2 L827.9,760.5 L837.1,761.0 L841.1,760.6 L845.8,760.8 L850.4,760.9 L855.0,760.9 L859.1,759.2 L863.5,757.0 L868.1,757.8 L872.3,756.6 L877.0,756.8 L881.2,757.7 L885.6,758.0 L890.0,758.7 L894.2,759.1 L898.9,758.8 L903.1,757.9 L907.5,758.8 L911.9,759.0 L916.2,760.0 L920.8,760.7 L925.4,761.1 L929.7,760.9 L934.0,761.3 L938.4,761.5 L942.7,762.3 L947.7,762.6 L951.9,762.4 L956.0,761.8 L960.6,761.9 L965.2,762.1 L969.1,763.7 L973.5,764.4 L978.1,764.0 L982.3,766.3 L986.6,768.8 L991.0,769.2 L995.6,769.7 L1000.0,770.8 L1004.6,769.8 L1008.9,769.1 L1013.5,768.3 L1017.5,766.5 L1021.9,766.6 L1026.2,766.2 L1030.8,766.5 L1035.4,765.5 L1040.0,764.7 L1044.0,763.8 L1048.9,763.9 L1053.0,762.5 L1057.3,762.0 L1061.3,761.5 L1066.2,762.0 L1070.3,763.6 L1074.6,764.0 L1079.2,764.1 L1087.9,762.2 L1092.5,762.4 L1097.1,762.5 L1101.1,762.4 L1105.8,762.5 L1110.4,762.5 L1114.4,762.1 L1118.8,761.9 L1123.1,762.4 L1127.7,762.4 L1131.8,763.0 L1136.1,764.3 L1140.4,764.0 L1145.0,764.3 L1149.6,764.2 L1153.7,764.5 L1158.3,764.7 L1162.7,765.0 L1166.9,764.7 L1171.0,764.6 L1180.2,763.9 L1184.8,763.6 L1189.2,763.2 L1193.5,763.6 L1198.1,763.6 L1202.7,763.3 L1206.7,762.0 L1210.8,760.2 L1215.4,760.4 L1220.0,760.1 L1224.6,761.0 L1228.7,761.4 L1233.3,761.7 L1237.9,762.1 L1242.5,762.2 L1247.1,762.3 L1251.7,762.6 L1255.8,762.4 L1259.0,762.1 L1263.6,761.8 L1268.2,761.9 L1272.8,762.7 L1277.1,763.3 L1281.4,763.8 L1285.9,763.3 L1290.0,762.7 L1294.5,762.6 L1299.1,762.8 L1303.7,762.7 L1308.3,762.5 L1312.9,762.3 L1317.4,762.1 L1321.5,762.3 L1326.0,761.6 L1330.0,762.3 L1334.0,762.6 L1338.6,761.9 L1342.6,758.8 L1347.0,755.7 L1351.8,754.4 L1355.8,755.7 L1360.4,757.1 L1366.0,757.1 L1366,780 L98,780 Z" fill="#dde4fb"/>
<rect x="209" y="705" width="1" height="75" fill="#c9d2ee" fill-opacity="0.6"/>
<rect x="367" y="705" width="1" height="75" fill="#c9d2ee" fill-opacity="0.6"/>
<rect x="526" y="705" width="1" height="75" fill="#c9d2ee" fill-opacity="0.6"/>
<rect x="684" y="705" width="1" height="75" fill="#c9d2ee" fill-opacity="0.6"/>
<rect x="843" y="705" width="1" height="75" fill="#c9d2ee" fill-opacity="0.6"/>
<rect x="1001" y="705" width="1" height="75" fill="#c9d2ee" fill-opacity="0.6"/>
<rect x="1159" y="705" width="1" height="75" fill="#c9d2ee" fill-opacity="0.6"/>
<rect x="1318" y="705" width="1" height="75" fill="#c9d2ee" fill-opacity="0.6"/>
<path d="M98.0,725.8 L102.5,725.9 L106.6,726.0 L110.8,725.4 L115.2,725.9 L123.9,724.3 L128.1,725.0 L132.8,724.7 L137.1,724.8 L141.8,724.8 L146.1,724.1 L150.4,724.6 L155.0,724.7 L159.6,724.6 L163.7,725.9 L168.3,726.3 L172.7,726.7 L176.6,729.2 L182.1,728.3 L185.8,726.4 L190.0,723.8 L194.5,724.2 L198.8,723.3 L207.5,725.0 L212.1,725.1 L217.3,725.7 L221.3,725.5 L225.9,724.9 L234.0,724.2 L238.6,723.9 L243.2,724.0 L251.6,722.4 L256.0,722.7 L260.6,722.9 L264.6,721.8 L269.8,721.8 L274.2,721.5 L277.9,720.4 L282.5,719.8 L287.4,719.5 L291.2,720.9 L296.1,721.2 L300.4,721.4 L304.4,722.8 L313.1,723.8 L317.4,723.6 L322.3,723.7 L326.4,723.5 L334.4,722.9 L339.6,722.4 L344.5,722.6 L352.9,724.4 L357.5,724.6 L361.5,724.0 L366.1,724.4 L370.8,724.3 L374.8,724.7 L379.4,724.3 L384.0,724.6 L388.1,723.4 L393.2,723.6 L396.2,723.6 L401.4,723.8 L406.0,723.6 L410.0,723.6 L418.7,724.2 L423.3,724.1 L427.9,723.8 L431.9,723.4 L436.6,723.7 L441.2,724.1 L445.2,724.3 L449.8,725.4 L453.9,726.2 L459.1,726.3 L463.1,726.5 L467.7,727.3 L471.7,727.0 L476.4,726.9 L480.4,726.7 L485.0,726.6 L489.6,726.7 L494.2,726.4 L498.3,726.3 L502.9,726.4 L506.9,725.8 L511.5,725.9 L515.6,726.7 L520.2,727.6 L524.8,728.5 L528.8,728.7 L533.5,728.4 L538.1,728.3 L542.1,728.2 L546.2,728.3 L550.8,728.4 L555.4,728.3 L560.0,728.0 L564.1,728.8 L568.5,734.9 L572.7,735.2 L577.3,736.2 L581.3,738.1 L585.9,740.6 L590.7,739.3 L595.0,740.9 L599.4,744.1 L603.6,745.8 L607.7,746.3 L612.2,746.1 L616.8,746.1 L621.4,746.6 L625.7,749.1 L629.9,748.8 L634.5,749.7 L639.1,748.0 L643.1,749.7 L647.9,750.6 L652.2,754.8 L656.6,757.4 L660.8,756.0 L665.8,755.6 L670.0,754.1 L674.6,754.6 L678.6,754.2 L682.9,754.5 L687.4,753.1 L691.8,755.8 L696.3,756.3 L700.9,755.6 L705.0,755.5 L709.6,755.9 L713.9,754.0 L718.3,754.8 L722.9,755.6 L727.3,757.5 L731.6,759.2 L736.0,759.9 L740.2,759.4 L744.8,759.5 L749.4,761.5 L753.5,764.1 L758.1,764.3 L762.1,764.2 L766.7,763.5 L771.4,762.4 L775.4,762.1 L780.0,762.3 L784.3,761.9 L788.7,762.1 L793.3,762.1 L797.7,760.8 L802.3,760.5 L806.5,761.3 L811.1,761.3 L815.2,759.8 L823.3,760.2 L827.9,760.5 L837.1,761.0 L841.1,760.6 L845.8,760.8 L850.4,760.9 L855.0,760.9 L859.1,759.2 L863.5,757.0 L868.1,757.8 L872.3,756.6 L877.0,756.8 L881.2,757.7 L885.6,758.0 L890.0,758.7 L894.2,759.1 L898.9,758.8 L903.1,757.9 L907.5,758.8 L911.9,759.0 L916.2,760.0 L920.8,760.7 L925.4,761.1 L929.7,760.9 L934.0,761.3 L938.4,761.5 L942.7,762.3 L947.7,762.6 L951.9,762.4 L956.0,761.8 L960.6,761.9 L965.2,762.1 L969.1,763.7 L973.5,764.4 L978.1,764.0 L982.3,766.3 L986.6,768.8 L991.0,769.2 L995.6,769.7 L1000.0,770.8 L1004.6,769.8 L1008.9,769.1 L1013.5,768.3 L1017.5,766.5 L1021.9,766.6 L1026.2,766.2 L1030.8,766.5 L1035.4,765.5 L1040.0,764.7 L1044.0,763.8 L1048.9,763.9 L1053.0,762.5 L1057.3,762.0 L1061.3,761.5 L1066.2,762.0 L1070.3,763.6 L1074.6,764.0 L1079.2,764.1 L1087.9,762.2 L1092.5,762.4 L1097.1,762.5 L1101.1,762.4 L1105.8,762.5 L1110.4,762.5 L1114.4,762.1 L1118.8,761.9 L1123.1,762.4 L1127.7,762.4 L1131.8,763.0 L1136.1,764.3 L1140.4,764.0 L1145.0,764.3 L1149.6,764.2 L1153.7,764.5 L1158.3,764.7 L1162.7,765.0 L1166.9,764.7 L1171.0,764.6 L1180.2,763.9 L1184.8,763.6 L1189.2,763.2 L1193.5,763.6 L1198.1,763.6 L1202.7,763.3 L1206.7,762.0 L1210.8,760.2 L1215.4,760.4 L1220.0,760.1 L1224.6,761.0 L1228.7,761.4 L1233.3,761.7 L1237.9,762.1 L1242.5,762.2 L1247.1,762.3 L1251.7,762.6 L1255.8,762.4 L1259.0,762.1 L1263.6,761.8 L1268.2,761.9 L1272.8,762.7 L1277.1,763.3 L1281.4,763.8 L1285.9,763.3 L1290.0,762.7 L1294.5,762.6 L1299.1,762.8 L1303.7,762.7 L1308.3,762.5 L1312.9,762.3 L1317.4,762.1 L1321.5,762.3 L1326.0,761.6 L1330.0,762.3 L1334.0,762.6 L1338.6,761.9 L1342.6,758.8 L1347.0,755.7 L1351.8,754.4 L1355.8,755.7 L1360.4,757.1 L1366.0,757.1" fill="none" stroke="#3861fb" stroke-width="1.3" stroke-linejoin="round"/>
<text x="177.0" y="767.6" textLength="63.2" lengthAdjust="spacingAndGlyphs" class="nv">7:00 PM</text>
<text x="331.9" y="767.6" textLength="71.3" lengthAdjust="spacingAndGlyphs" class="nv">10:00 PM</text>
<text x="494.5" y="767.6" textLength="62.6" lengthAdjust="spacingAndGlyphs" class="nv">1:00 AM</text>
<text x="673.9" y="767.6" textLength="20.7" lengthAdjust="spacingAndGlyphs" class="nvb">29</text>
<text x="811.6" y="767.6" textLength="63.3" lengthAdjust="spacingAndGlyphs" class="nv">7:00 AM</text>
<text x="965.0" y="767.6" textLength="72.6" lengthAdjust="spacingAndGlyphs" class="nv">10:00 AM</text>
<text x="1129.3" y="767.6" textLength="60.5" lengthAdjust="spacingAndGlyphs" class="nv">1:00 PM</text>
<clipPath id="cH"><rect x="0" y="700" width="1368" height="90"/></clipPath><g clip-path="url(#cH)">
<g filter="url(#sh)"><rect x="90" y="727" width="16.5" height="28" rx="8" fill="#fff"/></g>
<rect x="95.8" y="735.5" width="1" height="10" fill="#a6b0c3"/><rect x="99.2" y="735.5" width="1" height="10" fill="#a6b0c3"/>
<g filter="url(#sh)"><rect x="1358" y="727" width="16.5" height="28" rx="8" fill="#fff"/></g>
<rect x="1363.8" y="735.5" width="1" height="10" fill="#a6b0c3"/><rect x="1367.2" y="735.5" width="1" height="10" fill="#a6b0c3"/>
</g>
<defs><filter id="sh" x="-50%" y="-50%" width="200%" height="200%"><feDropShadow dx="0" dy="1" stdDeviation="1.5" flood-color="#58667e" flood-opacity="0.18"/></filter></defs>
</svg>
<div class="cb on"><svg width="22" height="22" viewBox="0 0 22 22"><path d="M5.3,12.9 L8.5,16.6 L17.5,6.5" fill="none" stroke="#fff" stroke-width="1.25" stroke-linecap="round" stroke-linejoin="round"/></svg></div>
<div class="lbl" style="left:71px">USD</div>
<div class="cb off"></div>
<div class="lbl" style="left:202.5px">BTC</div>
<div class="more">Want more data? <a>Check out our API</a></div>
</body></html>
